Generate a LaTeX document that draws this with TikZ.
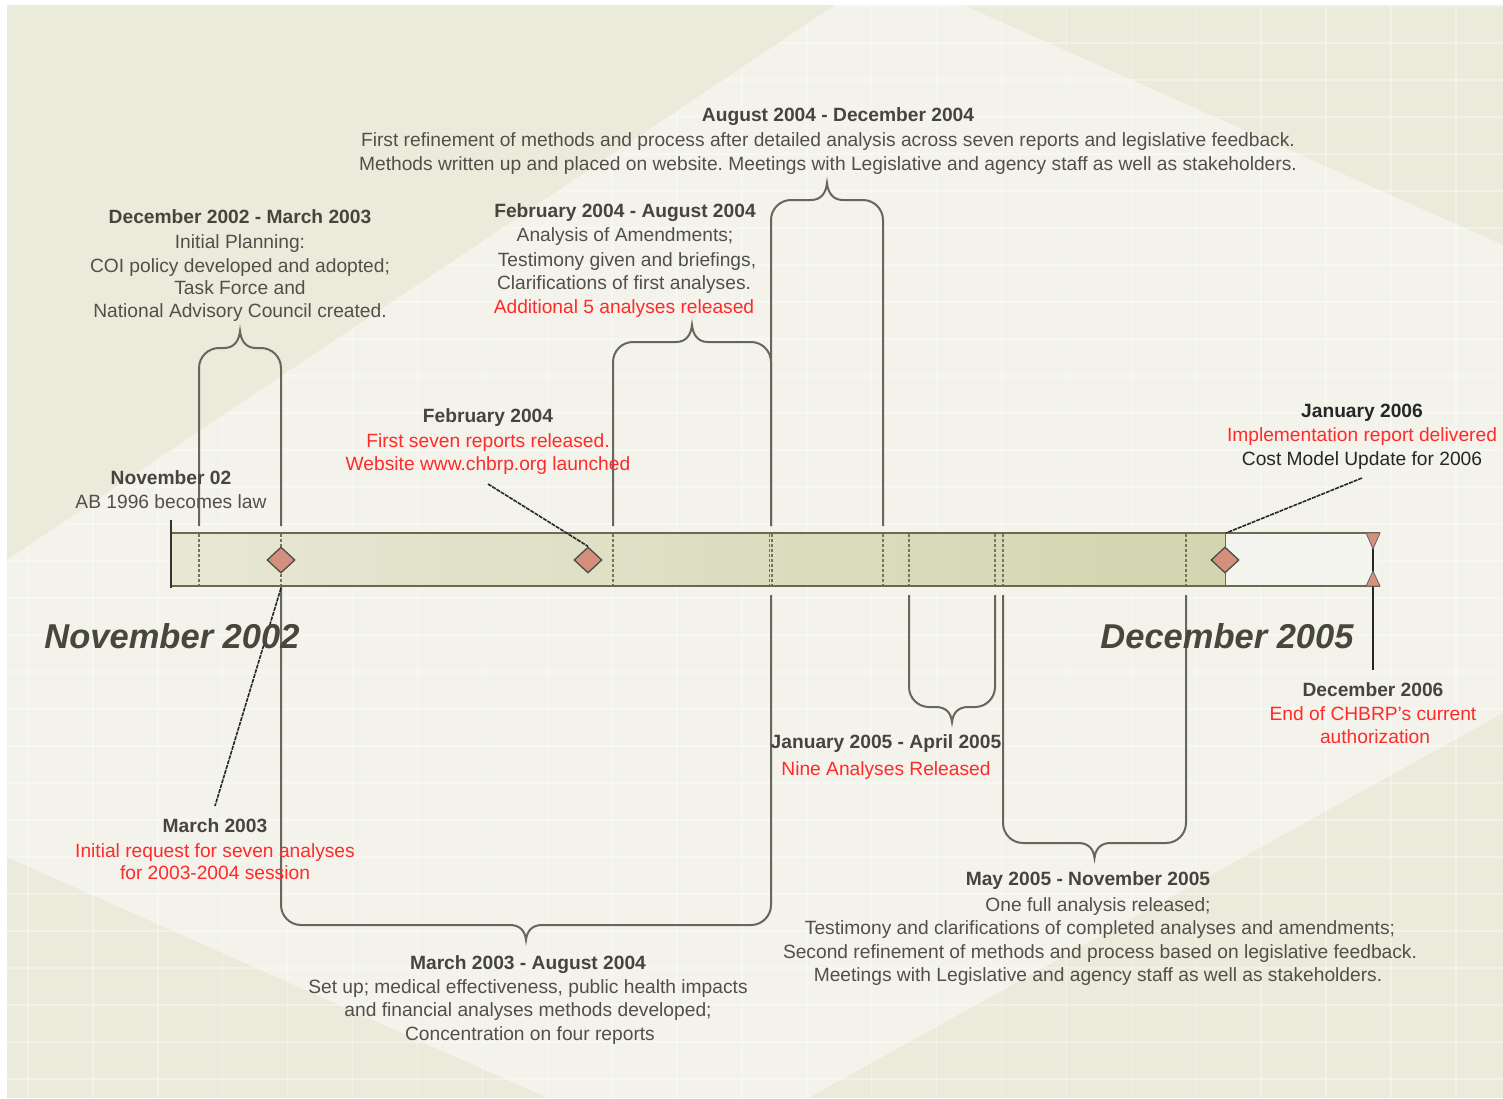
\documentclass[tikz,border=0pt]{standalone}
\usepackage{fontspec}
\setmainfont{Liberation Sans}
\frenchspacing
\definecolor{bgdark}{HTML}{EBEBDC}
\definecolor{bglight}{HTML}{F3F3EB}
\definecolor{txtgray}{HTML}{505048}
\definecolor{hdgray}{HTML}{45453D}
\definecolor{redtxt}{HTML}{FF2A2A}
\definecolor{biggray}{HTML}{47473C}
\definecolor{bracecol}{HTML}{66665A}
\definecolor{barL}{HTML}{E7E7D4}
\definecolor{barR}{HTML}{D3D5AF}
\definecolor{barend}{HTML}{F5F5EF}
\definecolor{baredge}{HTML}{6A6A52}
\definecolor{salmon}{HTML}{D4907C}
\definecolor{dashcol}{HTML}{74745F}
\usetikzlibrary{shapes.geometric}
\tikzset{
  txt/.style={anchor=base, inner sep=0pt, font=\fontsize{19.2}{23}\selectfont, text=txtgray},
  hd/.style={txt, font=\fontsize{19.2}{23}\selectfont\bfseries, text=hdgray},
  hdk/.style={txt, font=\fontsize{19.2}{23}\selectfont\bfseries, text=black!85},
  blk/.style={txt, text=black!85},
  rd/.style={txt, text=redtxt},
  bigtxt/.style={anchor=base, inner sep=0pt, font=\fontsize{34.5}{40}\selectfont\bfseries\itshape, text=biggray},
  bracepath/.style={draw=bracecol, line width=2pt},
  gridline/.style={draw=white, line width=1.4pt, opacity=0.35},
  bardash/.style={draw=dashcol, line width=1.2pt, dash pattern=on 3pt off 2pt},
  callout/.style={draw=black!85, line width=1.6pt, dash pattern=on 4pt off 1pt},
  diam/.style={diamond, draw=black!70, fill=salmon, line width=1.3pt, minimum width=28pt, minimum height=26pt, inner sep=0pt},
}
% #1 x1, #2 x2, #3 y of horizontal part, #4 foot y left, #5 foot y right
\newcommand{\TLbraceUp}[5]{%
  \pgfmathsetmacro\xc{(#1+#2)/2}%
  \draw[bracepath] (#1,#4) -- (#1,#3+20) .. controls (#1,#3+9) and (#1+9,#3) .. (#1+20,#3)
    -- (\xc-16,#3) .. controls (\xc-6,#3) and (\xc-1,#3-7) .. (\xc,#3-17)
    .. controls (\xc+1,#3-7) and (\xc+6,#3) .. (\xc+16,#3)
    -- (#2-20,#3) .. controls (#2-9,#3) and (#2,#3+9) .. (#2,#3+20) -- (#2,#5);}
\newcommand{\TLbraceDown}[5]{%
  \pgfmathsetmacro\xc{(#1+#2)/2}%
  \draw[bracepath] (#1,#4) -- (#1,#3-20) .. controls (#1,#3-9) and (#1+9,#3) .. (#1+20,#3)
    -- (\xc-16,#3) .. controls (\xc-6,#3) and (\xc-1,#3+6) .. (\xc,#3+15)
    .. controls (\xc+1,#3+6) and (\xc+6,#3) .. (\xc+16,#3)
    -- (#2-20,#3) .. controls (#2-9,#3) and (#2,#3-9) .. (#2,#3-20) -- (#2,#5);}
\begin{document}
\begin{tikzpicture}[x=1pt,y=-1pt]
\useasboundingbox (0,0) rectangle (1503,1098);
% background
\fill[white] (0,0) rectangle (1503,1098);
\fill[bgdark] (7,5) rectangle (1503,1098);
\fill[bglight] (7,560) -- (835,5) -- (963,5) -- (1503,245) -- (1503,713) -- (808,1098) -- (548,1098) -- (7,857) -- cycle;
\begin{scope}
  \clip (7,560) -- (835,5) -- (1503,5) -- (1503,1098) -- (7,1098) -- cycle;
  \foreach \i in {0,...,23} \draw[gridline] ({28+64.9*\i},5) -- ({28+64.9*\i},1098);
  \foreach \j in {0,...,29} \draw[gridline] (7,{6+37*\j}) -- (1503,{6+37*\j});
\end{scope}

% braces above the bar
\TLbraceUp{199}{281}{348}{526}{526}
\TLbraceUp{613}{771}{342}{526}{526}
\TLbraceUp{771}{883}{200}{526}{526}
% braces below the bar
\TLbraceDown{281}{771}{925}{587}{595}
\TLbraceDown{909}{995}{707}{595}{595}
\TLbraceDown{1003}{1186}{843}{595}{595}

% timeline bar
\shade[left color=barL, right color=barR] (171,533) rectangle (1225,586);
\fill[barend] (1225,533) rectangle (1378,586);
\draw[baredge, line width=1pt] (1225,533) -- (1225,586);
\foreach \x in {199,281,613,769.5,772,883,909,995,1003,1186}
  \draw[bardash] (\x,534) -- (\x,586);
\draw[baredge, line width=2pt] (171,533) -- (1380,533);
\draw[baredge, line width=2pt] (171,586) -- (1380,586);
\draw[black!80, line width=2.5pt] (171,520) -- (171,588);

% markers
\node[diam] (d1) at (281,560) {};
\node[diam] (d2) at (588,560) {};
\node[diam] (d3) at (1225,560) {};
\coordinate (endtop) at (1373,533);
\coordinate (endlow) at (1373,670);
\draw[black!85, line width=2pt] (endtop) -- (endlow);
\filldraw[fill=salmon, draw=black!60, line width=0.8pt] (1366,533) -- (1380,533) -- (1373,549) -- cycle;
\filldraw[fill=salmon, draw=black!60, line width=0.8pt] (1366,586) -- (1380,586) -- (1373,571) -- cycle;

% callout lines
\coordinate (febtail) at (488,484);
\coordinate (jantail) at (1362,478);
\coordinate (janhead) at (1226,533);
\coordinate (martop) at (281,588);
\coordinate (martail) at (215,806);
\draw[callout] (febtail) -- (d2.north);
\draw[callout] (jantail) -- (janhead);
\draw[callout] (martop) -- (martail);

% texts: top
\node[hd] (a1) at (838,121) {August 2004 - December 2004};
\node[txt] (a2) at (828,146) {First refinement of methods and process after detailed analysis across seven reports and legislative feedback.};
\node[txt] (a3) at (828,170) {Methods written up and placed on website. Meetings with Legislative and agency staff as well as stakeholders.};

\node[hd] (b1) at (240,223) {December 2002 - March 2003};
\node[txt] (b2) at (240,248) {Initial Planning:};
\node[txt] (b3) at (240,272) {COI policy developed and adopted;};
\node[txt] (b4) at (240,294) {Task Force and};
\node[txt] (b5) at (240,317) {National Advisory Council created.};

\node[hd] (c1) at (625,217) {February 2004 - August 2004};
\node[txt] (c2) at (625,241) {Analysis of Amendments;};
\node[txt] (c3) at (627,266) {Testimony given and briefings,};
\node[txt] (c4) at (624,289) {Clarifications of first analyses.};
\node[rd] (c5) at (624,313) {Additional 5 analyses released};

\node[hd] (e1) at (488,422) {February 2004};
\node[rd] (e2) at (488,447) {First seven reports released.};
\node[rd] (e3) at (488,470) {Website www.chbrp.org launched};

\node[hd] (f1) at (171,484) {November 02};
\node[txt] (f2) at (171,508) {AB 1996 becomes law};

\node[hdk] (g1) at (1362,417) {January 2006};
\node[rd] (g2) at (1362,441) {Implementation report delivered};
\node[blk] (g3) at (1362,465) {Cost Model Update for 2006};

\node[bigtxt] (big1) at (172,648) {November 2002};
\node[bigtxt] (big2) at (1227,648) {December 2005};

\node[hd] (h1) at (886,748) {January 2005 - April 2005};
\node[rd] (h2) at (886,775) {Nine Analyses Released};

\node[hd] (i1) at (1373,696) {December 2006};
\node[rd] (i2) at (1373,720) {End of CHBRP's current};
\node[rd] (i3) at (1375,743) {authorization};

\node[hd] (j1) at (215,832) {March 2003};
\node[rd] (j2) at (215,857) {Initial request for seven analyses};
\node[rd] (j3) at (215,879) {for 2003-2004 session};

\node[hd] (k1) at (1088,885) {May 2005 - November 2005};
\node[txt] (k2) at (1098,911) {One full analysis released;};
\node[txt] (k3) at (1100,934) {Testimony and clarifications of completed analyses and amendments;};
\node[txt] (k4) at (1100,958) {Second refinement of methods and process based on legislative feedback.};
\node[txt] (k5) at (1098,981) {Meetings with Legislative and agency staff as well as stakeholders.};

\node[hd] (l1) at (528,969) {March 2003 - August 2004};
\node[txt] (l2) at (528,993) {Set up; medical effectiveness, public health impacts};
\node[txt] (l3) at (528,1016) {and financial analyses methods developed;};
\node[txt] (l4) at (530,1040) {Concentration on four reports};
\end{tikzpicture}
\end{document}
